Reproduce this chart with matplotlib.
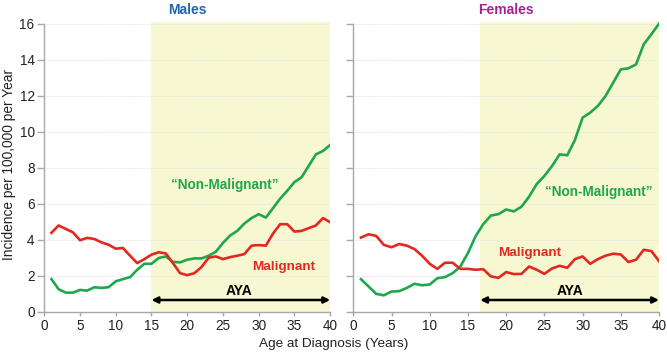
import matplotlib
matplotlib.use('Agg')
import matplotlib.pyplot as plt
import numpy as np

plt.rcParams['font.family'] = ['Liberation Sans', 'DejaVu Sans']

ages = list(range(1, 41))

male_malignant = [4.38, 4.79, 4.6, 4.41, 3.97, 4.1, 4.04, 3.85, 3.72, 3.5,
                  3.54, 3.11, 2.7, 2.92, 3.17, 3.3, 3.24, 2.7, 2.14, 2.03,
                  2.14, 2.48, 3.0, 3.07, 2.92, 3.03, 3.11, 3.2, 3.67, 3.7,
                  3.67, 4.34, 4.86, 4.86, 4.45, 4.49, 4.64, 4.79, 5.2, 4.97]
male_nonmalignant = [1.81, 1.25, 1.06, 1.06, 1.21, 1.17, 1.36, 1.32, 1.36, 1.69,
                     1.81, 1.92, 2.33, 2.66, 2.66, 2.98, 3.07, 2.77, 2.74, 2.89,
                     2.96, 2.96, 3.11, 3.33, 3.82, 4.23, 4.49, 4.9, 5.2, 5.42,
                     5.23, 5.75, 6.28, 6.72, 7.2, 7.47, 8.1, 8.74, 8.93, 9.26]

female_malignant = [4.12, 4.3, 4.21, 3.71, 3.58, 3.76, 3.67, 3.48, 3.11, 2.66,
                    2.38, 2.72, 2.72, 2.38, 2.38, 2.33, 2.36, 1.96, 1.88, 2.2,
                    2.09, 2.1, 2.51, 2.33, 2.1, 2.4, 2.55, 2.44, 2.92, 3.07,
                    2.66, 2.92, 3.11, 3.22, 3.18, 2.76, 2.89, 3.44, 3.37, 2.81]
female_nonmalignant = [1.81, 1.4, 0.99, 0.91, 1.12, 1.14, 1.32, 1.55, 1.47, 1.51,
                       1.86, 1.92, 2.14, 2.51, 3.26, 4.19, 4.86, 5.34, 5.42, 5.68,
                       5.57, 5.83, 6.39, 7.09, 7.54, 8.09, 8.74, 8.69, 9.54, 10.78,
                       11.06, 11.43, 11.98, 12.72, 13.46, 13.52, 13.74, 14.85, 15.41, 16.0]

aya_start = {'Males': 15, 'Females': 16.6}

GREEN = '#1fa84a'
RED = '#e2281f'
SHADE = '#f7f7d2'
GRAY = '#a8a8a8'
TXT = '#222222'
FS = 9.5

fig = plt.figure(figsize=(6.67, 3.53), dpi=100)
ax1 = fig.add_axes([0.0664, 0.117, 0.4286, 0.821])
ax2 = fig.add_axes([0.5297, 0.117, 0.4583, 0.821])


def panel(ax, title, color, malig, nonmalig, start, labels):
    ax.axvspan(start, 40, color=SHADE, zorder=0, lw=0)
    for y in range(2, 17, 2):
        ax.axhline(y, color='#e4e4e4', lw=0.7, ls=(0, (1, 1)), zorder=1)
    ax.plot(ages, nonmalig, color=GREEN, lw=1.9, zorder=3)
    ax.plot(ages, malig, color=RED, lw=1.9, zorder=3)
    ax.annotate('', xy=(40, 0.65), xytext=(start, 0.65),
                arrowprops=dict(arrowstyle='<|-|>', color='black', lw=1.8,
                                mutation_scale=9, shrinkA=0, shrinkB=0), zorder=4)
    ax.text(labels['aya'][0], labels['aya'][1], 'AYA', ha='center', va='center',
            fontsize=FS + 0.5, fontweight='bold', color='black')
    ax.text(labels['non'][0], labels['non'][1], '\u201cNon-Malignant\u201d', ha='center',
            va='center', fontsize=FS + 0.3, fontweight='bold', color=GREEN)
    ax.text(labels['mal'][0], labels['mal'][1], 'Malignant', ha='center', va='center',
            fontsize=FS + 0.2, fontweight='bold', color=RED)
    ax.set_xlim(0, 40)
    ax.set_ylim(0, 16.1)
    ax.set_xticks(range(0, 41, 5))
    ax.set_yticks(range(0, 17, 2))
    for s in ['top', 'right']:
        ax.spines[s].set_visible(False)
    for s in ['left', 'bottom']:
        ax.spines[s].set_color(GRAY)
        ax.spines[s].set_linewidth(1.0)
    ax.spines['left'].set_bounds(0, 16)
    ax.tick_params(colors=GRAY, labelcolor=TXT, labelsize=FS + 0.3, width=1, pad=2)
    ax.tick_params(axis='y', length=5)
    ax.tick_params(axis='x', length=3)
    ax.set_title(title, color=color, fontsize=10, fontweight='bold', pad=6)


panel(ax1, 'Males', '#1f64b0', male_malignant, male_nonmalignant, aya_start['Males'],
      {'aya': (27.3, 1.17), 'non': (25.2, 7.02), 'mal': (33.5, 2.51)})
panel(ax2, 'Females', '#a5238f', female_malignant, female_nonmalignant, aya_start['Females'],
      {'aya': (28.3, 1.17), 'non': (32.1, 6.65), 'mal': (23.1, 3.26)})
ax2.set_yticklabels([])

fig.text(0.013, 0.535, 'Incidence per 100,000 per Year', rotation=90, ha='center',
         va='center', fontsize=9.9, color=TXT)
fig.text(0.5007, 0.026, 'Age at Diagnosis (Years)', ha='center', va='center',
         fontsize=9.7, color=TXT)

fig.savefig('out.png', dpi=100)
